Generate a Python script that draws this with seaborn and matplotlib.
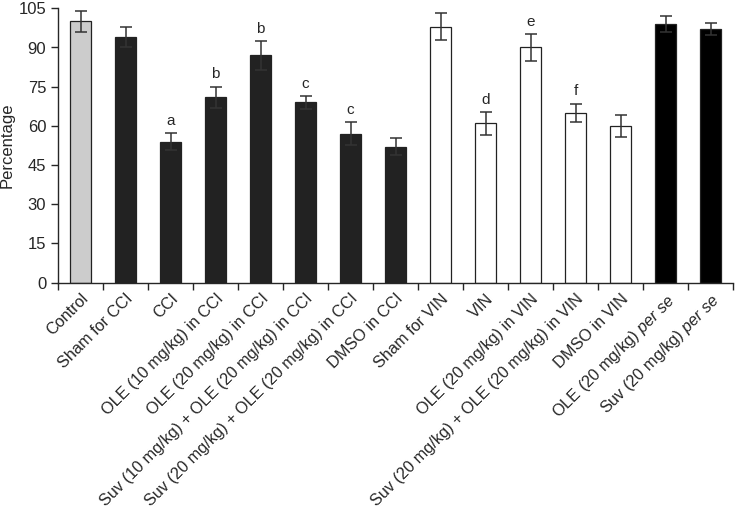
import numpy as np
import pandas as pd
import matplotlib
matplotlib.use('Agg')
import matplotlib.pyplot as plt
import seaborn as sns

# --- data ---
groups = ['Control', 'Sham for CCI', 'CCI', 'OLE (10 mg/kg) in CCI',
          'OLE (20 mg/kg) in CCI', 'Suv (10 mg/kg) + OLE (20 mg/kg) in CCI',
          'Suv (20 mg/kg) + OLE (20 mg/kg) in CCI', 'DMSO in CCI',
          'Sham for VIN', 'VIN', 'OLE (20 mg/kg) in VIN',
          'Suv (20 mg/kg) + OLE (20 mg/kg) in VIN', 'DMSO in VIN',
          'OLE (20 mg/kg) per se', 'Suv (20 mg/kg) per se']
tick_labels = groups[:13] + [r'OLE (20 mg/kg) $\it{per\ se}$',
                             r'Suv (20 mg/kg) $\it{per\ se}$']
values = [100, 94, 54, 71, 87, 69, 57, 52, 98, 61, 90, 65, 60, 99, 97]
errors = [4, 4, 3.3, 4, 5.5, 2.4, 4.4, 3.3, 5.3, 4.3, 5.2, 3.5, 4.2, 3, 2.2]
letters = ['', '', 'a', 'b', 'b', 'c', 'c', '', '', 'd', 'e', 'f', '', '', '']
colors = ['#cccccc'] + ['#222222'] * 7 + ['#ffffff'] * 5 + ['#000000'] * 2

sns.set_style('ticks')
plt.rcParams['font.family'] = ['Liberation Sans', 'DejaVu Sans']
plt.rcParams['mathtext.fontset'] = 'custom'
plt.rcParams['mathtext.it'] = 'Liberation Sans:italic'
plt.rcParams['mathtext.rm'] = 'Liberation Sans'

df = pd.DataFrame({'group': groups, 'value': values})

fig = plt.figure(figsize=(7.35, 5.14), dpi=100)
ax = fig.add_axes([58 / 735, 1 - 282.7 / 514, 675 / 735, 274.4 / 514])

sns.barplot(data=df, x='group', y='value', hue='group', palette=colors,
            legend=False, width=0.47, edgecolor='#222222', linewidth=0.9,
            ax=ax)
ax.errorbar(np.arange(len(values)), values, yerr=errors, fmt='none',
            ecolor='#333333', elinewidth=1.1, capsize=4, capthick=1.1)

for i, (v, e, l) in enumerate(zip(values, errors, letters)):
    if l:
        ax.text(i, v + e + 2, l, ha='center', va='bottom', fontsize=11)

ax.set_xlim(-0.5, len(values) - 0.5)
ax.set_ylim(0, 105)
ax.set_yticks(range(0, 106, 15))
# ticks sit between the bars, labels sit under the bars
ax.set_xticks(np.arange(-0.5, len(values), 1.0))
ax.set_xticklabels([])
ax.set_xticks(np.arange(len(values)), minor=True)
ax.set_xticklabels(tick_labels, minor=True, rotation=45, ha='right',
                   rotation_mode='anchor', fontsize=11.7)
ax.tick_params(axis='x', which='minor', length=0, pad=6)
ax.tick_params(axis='x', which='major', length=5, width=1, direction='out')
ax.tick_params(axis='y', labelsize=12, length=5, width=1)
ax.set_xlabel('')
ax.set_ylabel('Percentage', fontsize=12, labelpad=3)
for s in ['left', 'bottom']:
    ax.spines[s].set_linewidth(1)
sns.despine(ax=ax)

fig.savefig('out.png', dpi=100)
plt.close(fig)
